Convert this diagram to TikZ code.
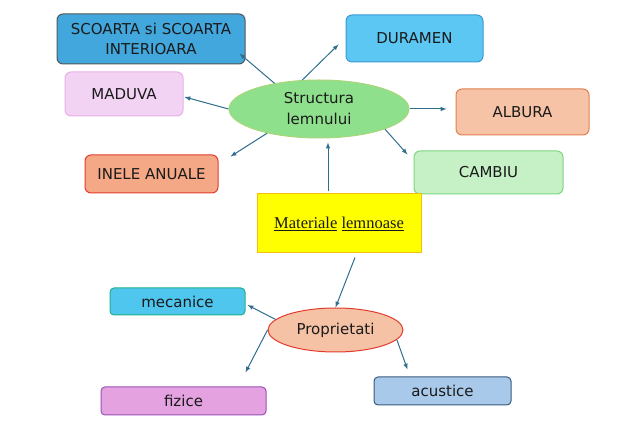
\documentclass[tikz,border=0pt]{standalone}
\usepackage{fontspec}
\setmainfont{DejaVu Sans}
\newfontfamily\matfont{Liberation Serif}
\usetikzlibrary{positioning,arrows,shapes,calc}

\definecolor{arrowC}{HTML}{2F6E8E}
\definecolor{txtC}{HTML}{1A1A1A}

\begin{document}
\begin{tikzpicture}[x=1pt,y=1pt,
    box/.style={draw,line width=1pt,rounded corners=6pt,text=txtC,
      font=\fontsize{15}{20}\selectfont,align=center,inner sep=0pt},
    oval/.style={draw,line width=1pt,ellipse,text=txtC,
      font=\fontsize{15}{21}\selectfont,align=center,inner sep=0pt},
    arr/.style={-latex,line width=1pt,arrowC}]
  \useasboundingbox (0,0) rectangle (632,-427);

  % Centre ellipse and its parts.
  \node[oval,fill={rgb,255:red,142;green,224;blue,140},draw={rgb,255:red,170;green,214;blue,122},
    minimum width=180,minimum height=58] (struct) at (319,-109) {Structura\\lemnului};

  \node[box,fill={rgb,255:red,65;green,167;blue,221},draw={rgb,255:red,85;green,85;blue,85},
    minimum width=188,minimum height=50] (scoarta) at (151,-39) {SCOARTA si SCOARTA\\INTERIOARA};
  \node[box,fill={rgb,255:red,243;green,211;blue,243},draw={rgb,255:red,233;green,176;blue,230},
    minimum width=118,minimum height=44] (maduva) at (124,-94) {MADUVA};
  \node[box,fill={rgb,255:red,244;green,168;blue,134},draw={rgb,255:red,226;green,59;blue,46},
    minimum width=133,minimum height=38] (inele) at (151.5,-174) {INELE ANUALE};
  \node[box,fill={rgb,255:red,91;green,199;blue,242},draw={rgb,255:red,58;green,154;blue,212},
    minimum width=137,minimum height=47] (dur) at (414.5,-38.5) {DURAMEN};
  \node[box,fill={rgb,255:red,247;green,195;blue,166},draw={rgb,255:red,224;green,128;blue,80},
    minimum width=133,minimum height=46] (alb) at (522.5,-112) {ALBURA};
  \node[box,fill={rgb,255:red,198;green,240;blue,198},draw={rgb,255:red,124;green,214;blue,126},
    minimum width=149,minimum height=43] (camb) at (488.5,-172.5) {CAMBIU};

  % Middle box.
  \node[draw,line width=1pt,fill={rgb,255:red,255;green,255;blue,0},draw={rgb,255:red,240;green,192;blue,16},
    minimum width=164,minimum height=59,inner sep=0pt,text=txtC,
    font=\matfont\fontsize{16.5}{19}\selectfont] (mat) at (339,-223.5)
    {\underline{Materiale} \underline{lemnoase}};

  % Properties ellipse and its parts.
  \node[oval,fill={rgb,255:red,246;green,194;blue,166},draw={rgb,255:red,226;green,59;blue,46},
    minimum width=135,minimum height=44] (prop) at (335.5,-330) {Proprietati};

  \node[box,rounded corners=4pt,fill={rgb,255:red,79;green,198;blue,238},draw={rgb,255:red,32;green,176;blue,137},
    minimum width=135,minimum height=27] (mec) at (177.5,-301.5) {mecanice};
  \node[box,rounded corners=4pt,fill={rgb,255:red,228;green,162;blue,224},draw={rgb,255:red,154;green,80;blue,184},
    minimum width=165,minimum height=28] (fiz) at (183.5,-401) {fizice};
  \node[box,rounded corners=4pt,fill={rgb,255:red,169;green,201;blue,234},draw={rgb,255:red,58;green,90;blue,126},
    minimum width=137,minimum height=28] (acu) at (442.5,-391) {acustice};

  \draw[arr] (struct.150) -- ([shift={(-6,11)}]scoarta.south east);
  \draw[arr] (struct.west) -- ([shift={(1,-3)}]maduva.east);
  \draw[arr] (struct.205) -- ([shift={(12,-2)}]inele.north east);
  \draw[arr] (struct.120) -- ([shift={(-7,-6)}]dur.west);
  \draw[arr] (struct.east) -- ([shift={(-9,3)}]alb.west);
  \draw[arr] (struct.-17) -- ([shift={(-6,-4)}]camb.north west);

  \draw[arr,shorten <=2pt] ([xshift=-11]mat.north) -- ([shift={(9,-4)}]struct.south);
  \draw[arr] ([shift={(16,-4)}]mat.south) -- (prop.north);

  \draw[arr] (prop.170) -- ([shift={(2,-3.5)}]mec.east);
  \draw[arr] (prop.west) -- ([shift={(-21,14)}]fiz.north east);
  \draw[arr] (prop.-9) -- ([shift={(-35,7)}]acu.north);
\end{tikzpicture}
\end{document}
